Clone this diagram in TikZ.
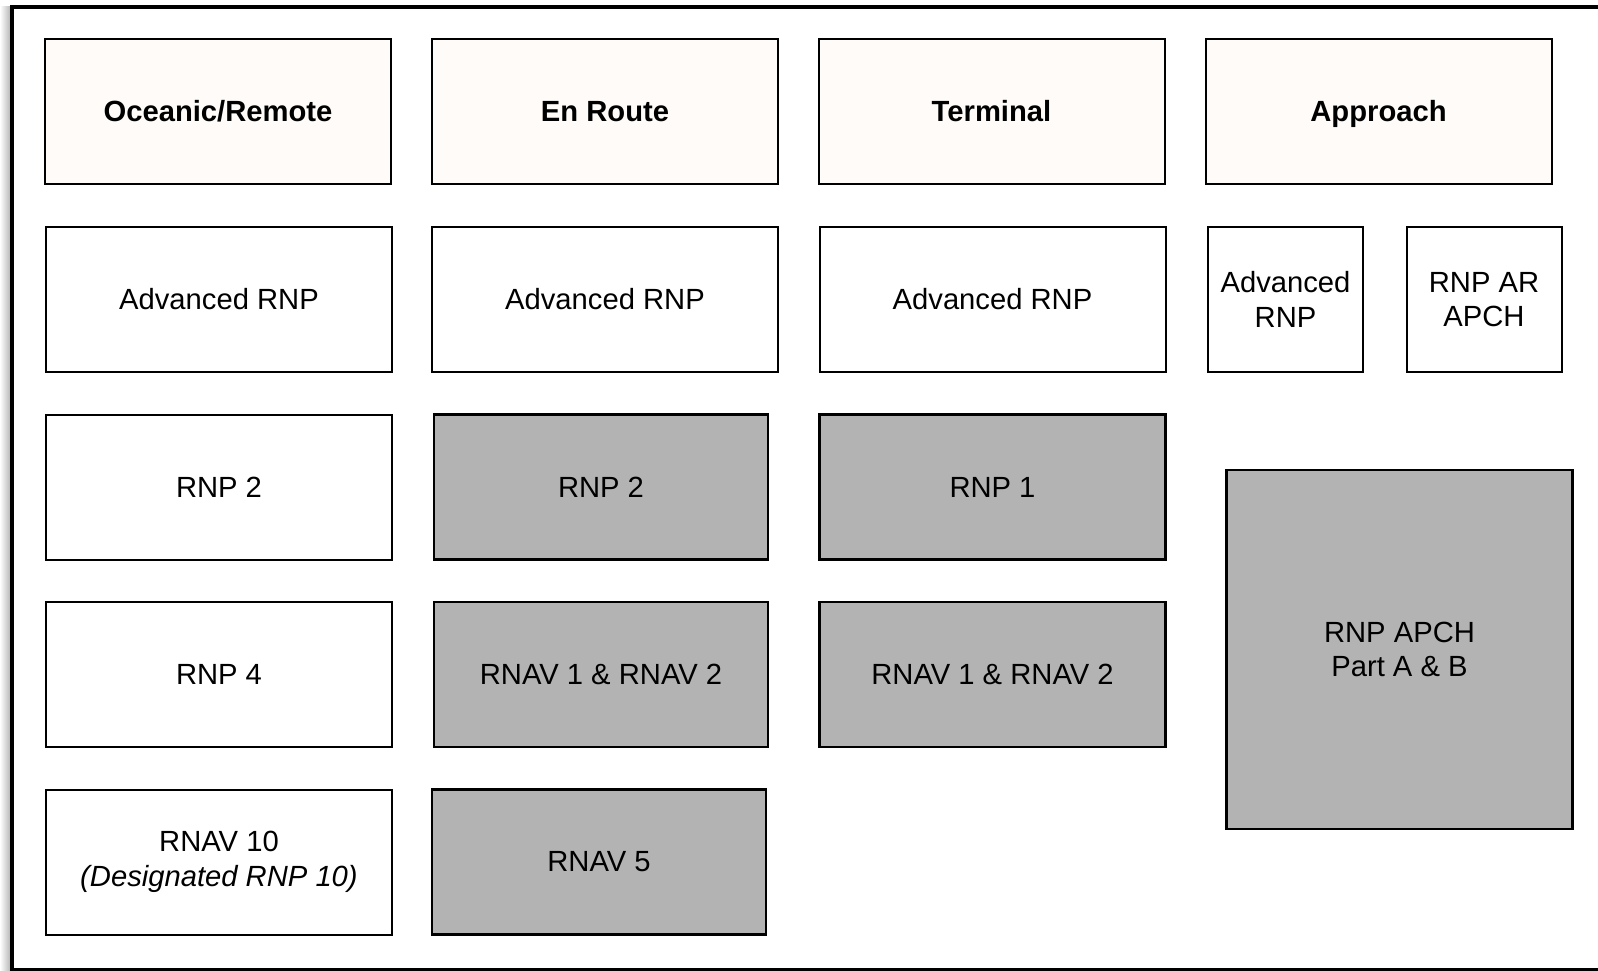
\documentclass[tikz,border=0pt]{standalone}
\usepackage{fontspec}
\setmainfont{Liberation Sans}
\usetikzlibrary{positioning}
\definecolor{headfill}{HTML}{FEFBF8}
\definecolor{boxgrey}{HTML}{B3B3B3}

\begin{document}
\begin{tikzpicture}[
                x=1pt, y=-1pt,
                box/.style={draw, line width=2pt, fill=white, minimum width=346pt, minimum height=145pt,
                            inner sep=0pt, align=center, font=\fontsize{29.2}{34.5}\selectfont},
                head/.style={box, fill=headfill, font=\fontsize{29.2}{34.5}\selectfont\bfseries,
                             text height=21pt, text depth=0pt},
                grey/.style={box, fill=boxgrey, line width=2.5pt, minimum width=334pt},
                small/.style={box, minimum width=155pt}
            ]
                % page and frame
                \useasboundingbox[fill=white] (0,0) rectangle (1598,971);
                \shade[left color=white, right color=black!30] (0,7) rectangle (11,971);
                \draw[line width=3.5pt] (1600,7) -- (12,7) -- (12,970) -- (1600,970);

                % flight phases
                \foreach \name/\x/\txt in {oceanic/218/{Oceanic/Remote}, enroute/605/En Route,
                                           terminal/991.5/Terminal, approach/1378.5/Approach} {
                    \node[head] (\name) at (\x, 111.5) {\txt};
                }

                % advanced RNP row
                \foreach \name/\x in {ocAdv/219, erAdv/605, tmAdv/992.5} {
                    \node[box] (\name) at (\x, 299.5) {Advanced RNP};
                }
                \node[small] (apAdv) at (1285.5, 299.5) {Advanced\\RNP};
                \node[small] (apAR) at (1484, 299.5) {RNP AR\\APCH};

                % oceanic/remote
                \node[box] (ocRnp2) at (219, 487) {RNP 2};
                \node[box] (ocRnp4) at (219, 674.5) {RNP 4};
                \node[box] (ocRnav10) at (219, 862) {RNAV 10\\\textit{(Designated RNP 10)}};

                % en route
                \node[grey] (erRnp2) at (601, 487) {RNP 2};
                \node[grey] (erRnav) at (601, 674.5) {RNAV 1 \& RNAV 2};
                \node[grey] (erRnav5) at (599, 862) {RNAV 5};

                % terminal
                \node[grey, minimum width=346pt] (tmRnp1) at (992.5, 487) {RNP 1};
                \node[grey, minimum width=346pt] (tmRnav) at (992.5, 674.5) {RNAV 1 \& RNAV 2};

                % approach
                \node[grey, minimum width=346pt, minimum height=359pt] (apApch) at (1399.5, 649.5) {RNP APCH\\Part A \& B};

            \end{tikzpicture}
\end{document}
